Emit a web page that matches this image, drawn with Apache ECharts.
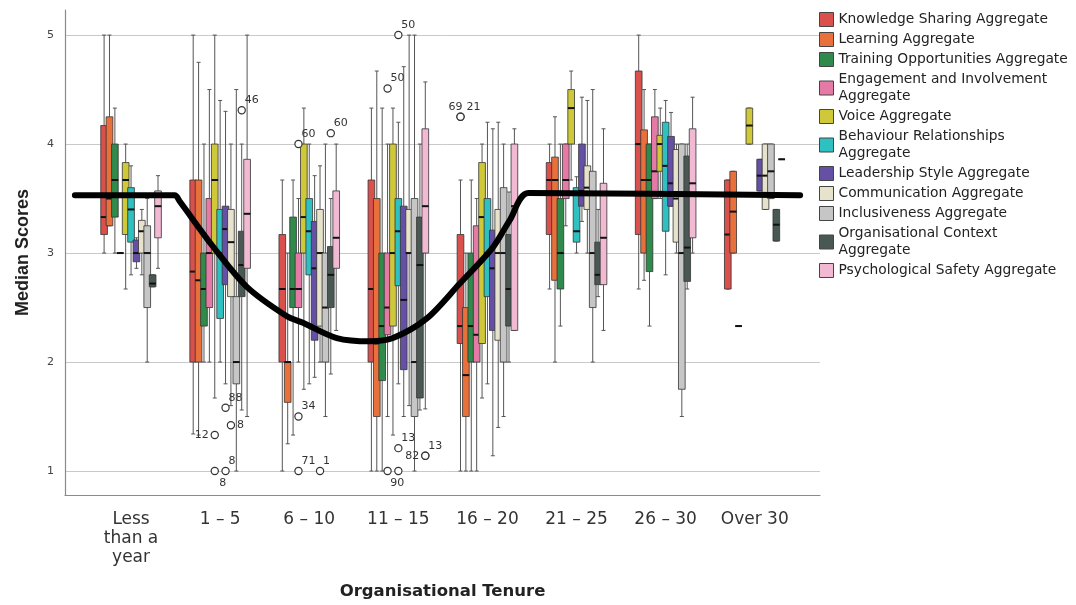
<!DOCTYPE html>
<html><head><meta charset="utf-8">
<script src="https://cdn.jsdelivr.net/npm/echarts@6/dist/echarts.min.js"></script>
<style>html,body{margin:0;padding:0;background:#fff}#c{width:1076px;height:605px}</style>
</head><body><div id="c"></div>
<script>
// ---------------- DATA ----------------
const categories = ['Less\nthan a\nyear', '1 – 5', '6 – 10', '11 – 15', '16 – 20', '21 – 25', '26 – 30', 'Over 30'];
const seriesNames = [
  'Knowledge Sharing Aggregate', 'Learning Aggregate', 'Training Opportunities Aggregate',
  'Engagement and Involvement Aggregate', 'Voice Aggregate', 'Behaviour Relationships Aggregate',
  'Leadership Style Aggregate', 'Communication Aggregate', 'Inclusiveness Aggregate',
  'Organisational Context Aggregate', 'Psychological Safety Aggregate'
];
const yTicks = [1, 2, 3, 4, 5];
// each entry: [min, Q1, median, Q3, max] per tenure group (null = no data)
const knowledgeSharing = [[3.0,3.17,3.33,4.17,5.0],[1.34,2.0,2.83,3.67,5.0],[1.0,2.0,2.67,3.17,3.67],[1.0,2.0,2.67,3.67,4.33],[1.0,2.17,2.33,3.17,3.67],[2.67,3.17,3.67,3.83,4.0],[2.67,3.17,4.0,4.67,5.0],[2.67,2.67,3.17,3.67,3.67]];
const learning = [[3.25,3.25,3.5,4.25,5.0],[1.33,2.0,2.75,3.67,4.75],[1.25,1.63,2.0,2.0,3.0],[1.0,1.5,2.17,3.5,4.67],[1.0,1.5,1.88,2.5,3.0],[2.0,2.75,3.67,3.88,4.25],[2.75,3.0,3.67,4.13,4.5],[3.0,3.0,3.38,3.75,3.75]];
const trainingOpportunities = [[3.0,3.33,3.67,4.0,4.33],[2.0,2.33,2.67,3.0,4.0],[1.33,2.5,2.67,3.33,3.67],[1.0,1.83,2.33,3.0,4.33],[1.0,2.0,2.33,3.0,3.67],[2.33,2.67,3.0,3.5,4.0],[2.33,2.83,3.67,4.0,4.0],[2.33,2.33,2.33,2.33,2.33]];
const engagementInvolvement = [[3.0,3.0,3.0,3.0,3.0],[2.0,2.5,3.0,3.5,4.5],[2.0,2.5,2.67,3.0,3.5],[1.5,2.25,2.5,3.0,4.0],[1.0,2.0,2.25,3.25,3.5],[3.25,3.5,3.67,4.0,4.0],[3.5,3.5,3.75,4.25,4.5],null];
const voice = [[2.67,3.17,3.67,3.83,4.0],[1.67,3.0,3.67,4.0,5.0],[1.75,3.0,3.33,4.0,4.33],[1.33,2.33,3.0,4.0,4.33],[1.67,2.17,3.33,3.83,4.0],[3.67,4.0,4.33,4.5,4.67],[3.5,3.75,4.0,4.08,4.33],[4.0,4.0,4.17,4.33,4.33]];
const behaviourRelationships = [[2.8,3.1,3.4,3.6,3.8],[2.0,2.4,3.0,3.4,4.4],[1.8,2.8,3.2,3.5,4.0],[1.8,2.7,3.2,3.5,4.2],[1.8,2.6,3.0,3.5,4.2],[3.0,3.1,3.2,3.6,3.7],[2.8,3.2,3.8,4.2,4.4],null];
const leadershipStyle = [[2.86,2.92,3.0,3.12,3.14],[1.8,2.71,3.22,3.43,4.3],[1.86,2.2,2.86,3.29,3.71],[1.5,1.93,2.57,3.43,4.71],[1.14,2.29,2.86,3.21,4.14],[3.29,3.43,3.57,4.0,4.43],[3.43,3.43,3.64,4.07,4.29],[3.57,3.57,3.71,3.86,3.86]];
const communication = [[2.8,3.0,3.2,3.3,3.4],[1.6,2.6,3.1,3.4,4.0],[2.0,2.33,3.0,3.4,3.8],[1.6,3.0,3.0,3.4,5.0],[1.4,2.2,3.0,3.4,4.2],[3.0,3.4,3.6,3.8,4.4],[3.0,3.1,3.5,3.95,4.0],[3.4,3.4,3.71,4.0,4.0]];
const inclusiveness = [[2.0,2.5,3.0,3.25,3.5],[1.0,1.8,2.0,2.6,4.5],[1.5,2.0,2.5,3.0,4.0],[1.0,1.5,2.0,3.5,5.0],[1.5,2.0,3.0,3.6,4.0],[2.0,2.5,3.0,3.75,4.5],[1.5,1.75,3.0,4.0,4.0],[3.5,3.5,3.75,4.0,4.0]];
const organisationalContext = [[2.69,2.69,2.72,2.8,2.8],[1.56,2.6,2.89,3.2,4.0],[1.89,2.5,2.8,3.06,3.5],[1.56,1.67,2.89,3.33,4.0],[2.0,2.33,2.67,3.17,3.56],[2.6,2.71,2.8,3.1,3.4],[2.67,2.74,3.05,3.89,4.0],[3.11,3.11,3.26,3.4,3.4]];
const psychologicalSafety = [[2.86,3.14,3.43,3.57,3.71],[1.5,2.86,3.36,3.86,5.0],[2.29,2.86,3.14,3.57,4.0],[1.57,3.0,3.43,4.14,4.57],[2.29,2.29,3.43,4.0,4.14],[2.29,2.71,3.14,3.64,4.14],[3.0,3.14,3.64,4.14,4.43],[3.86,3.86,3.86,3.86,3.86]];

// outliers: which series, which tenure group, value, case label
const outlierSeries = [4, 4, 6, 6, 7, 9, 3, 3, 7, 3, 9, 5, 3, 3, 5, 5, 10, 10, 0, 0];
const outlierGroup  = [1, 1, 1, 1, 1, 1, 2, 2, 2, 2, 2, 3, 3, 3, 3, 3, 3, 3, 4, 4];
const outlierValue  = [1.33, 1.0, 1.0, 1.58, 1.42, 4.31, 1.5, 1.0, 1.0, 4.0, 4.1, 5.0, 4.51, 1.0, 1.0, 1.21, 1.14, 1.14, 4.25, 4.25];
const outlierLabel  = ['12', '8', '8', '88', '8', '46', '34', '71', '1', '60', '60', '50', '50', '', '90', '13', '82', '13', '69', '21'];

// hand-drawn trend annotation (x in tenure-group units, y in score)
const trendX = [-0.63, 0.49, 0.55, 0.92, 1.30, 1.75, 1.93, 2.31, 2.68, 2.94, 3.32, 3.69, 4.06, 4.25, 4.46, 7.51];
const trendY = [3.53, 3.53, 3.47, 3.06, 2.69, 2.42, 2.36, 2.22, 2.19, 2.22, 2.40, 2.72, 3.05, 3.30, 3.55, 3.53];

// ---------------- STYLE ----------------
const stats = [knowledgeSharing, learning, trainingOpportunities, engagementInvolvement, voice,
  behaviourRelationships, leadershipStyle, communication, inclusiveness, organisationalContext, psychologicalSafety];
const colors = ['#d9504c', '#e8703a', '#2f8a4c', '#e57aa6', '#cfc93a', '#2fc0c2', '#6650a6', '#e6e2cb', '#c6c6c6', '#4a5853', '#f2b9d2'];
const legendWrap = {
  'Engagement and Involvement Aggregate': 'Engagement and Involvement\nAggregate',
  'Behaviour Relationships Aggregate': 'Behaviour Relationships\nAggregate',
  'Organisational Context Aggregate': 'Organisational Context\nAggregate'
};
const outlierSide = ['left', 'bottomRight', 'topRight', 'topRight', 'right', 'topRight', 'topRight', 'topRight', 'topRight', 'topRight', 'topRight',
  'topRight', 'topRight', 'right', 'bottomLeft', 'topRight', 'left', 'topRight', 'topLeft', 'topRight2'];
const sideOffsets = {
  right: [6, 0, 'left'], left: [-6, 0, 'right'], topRight: [3, -10, 'left'], topRight2: [6, -10, 'left'],
  topLeft: [2, -10, 'right'], bottomRight: [8, 12, 'center'], bottomLeft: [-1, 12, 'center']
};
const SPACING = 0.0605, BOXW = 0.075, N = seriesNames.length;

function boxSeries(k) {
  return {
    type: 'custom', name: seriesNames[k], xAxisIndex: 1, yAxisIndex: 1, z: 3,
    itemStyle: { color: colors[k] },
    dimensions: ['g', 'min', 'q1', 'med', 'q3', 'max'],
    encode: { x: 0, y: [1, 2, 3, 4, 5] },
    data: stats[k].map((s, gi) => s ? [gi].concat(s) : null).filter(d => d),
    renderItem(params, api) {
      const gi = api.value(0);
      const band = api.size([1, 0])[0];
      const cx = api.coord([gi, api.value(3)])[0] + (k - (N - 1) / 2) * band * SPACING;
      const ys = [1, 2, 3, 4, 5].map(d => api.coord([gi, api.value(d)])[1]);
      const w = band * BOXW, cap = w * 0.6;
      const ws = { stroke: '#555', lineWidth: 1 };
      return { type: 'group', children: [
        { type: 'line', shape: { x1: cx, y1: ys[4], x2: cx, y2: ys[3] }, style: ws },
        { type: 'line', shape: { x1: cx, y1: ys[1], x2: cx, y2: ys[0] }, style: ws },
        { type: 'line', shape: { x1: cx - cap / 2, y1: ys[4], x2: cx + cap / 2, y2: ys[4] }, style: ws },
        { type: 'line', shape: { x1: cx - cap / 2, y1: ys[0], x2: cx + cap / 2, y2: ys[0] }, style: ws },
        { type: 'rect', shape: { x: cx - w / 2, y: ys[3], width: w, height: ys[1] - ys[3] }, style: { fill: colors[k], stroke: '#333', lineWidth: 0.8 } },
        { type: 'line', shape: { x1: cx - w / 2, y1: ys[2], x2: cx + w / 2, y2: ys[2] }, style: { stroke: '#111', lineWidth: 2 } }
      ] };
    }
  };
}

const series = [];
series.push({
  type: 'line', name: 'grid', xAxisIndex: 0, yAxisIndex: 0, data: [], silent: true, z: 0,
  markLine: { silent: true, symbol: 'none', z: 0, animation: false, label: { show: false },
    lineStyle: { color: '#c9c9c9', type: 'solid', width: 1 }, data: yTicks.map(v => ({ yAxis: v })) }
});
for (let k = 0; k < N; k++) series.push(boxSeries(k));
series.push({
  type: 'custom', name: 'outliers', xAxisIndex: 1, yAxisIndex: 1, z: 4, silent: true,
  dimensions: ['g', 'v', 's'], encode: { x: 0, y: 1 },
  data: outlierValue.map((v, i) => [outlierGroup[i], v, outlierSeries[i]]),
  renderItem(params, api) {
    const i = params.dataIndex;
    const gi = api.value(0), k = api.value(2);
    const band = api.size([1, 0])[0];
    const p = api.coord([gi, api.value(1)]);
    const cx = p[0] + (k - (N - 1) / 2) * band * SPACING;
    const o = sideOffsets[outlierSide[i]];
    return { type: 'group', children: [
      { type: 'circle', shape: { cx: cx, cy: p[1], r: 3.6 }, style: { fill: '#fff', stroke: '#333', lineWidth: 1.2 } },
      { type: 'text', x: cx + o[0], y: p[1] + o[1], style: { text: outlierLabel[i], fill: '#333', font: '11px "DejaVu Sans"', align: o[2], verticalAlign: 'middle' } }
    ] };
  }
});
series.push({
  type: 'line', name: 'trend', xAxisIndex: 0, yAxisIndex: 0, z: 6, silent: true,
  data: trendX.map((x, i) => [x, trendY[i]]), smooth: 0.3, symbol: 'none',
  lineStyle: { color: '#000', width: 6, cap: 'round', join: 'round' }
});

const chart = echarts.init(document.getElementById('c'), null, { renderer: 'canvas' });
chart.setOption({
  animation: false,
  backgroundColor: '#fff',
  grid: [
    { left: 65, right: 256, top: 10, bottom: 110, outerBoundsMode: 'none' },
    { left: 86.5, right: 276.7, top: 10, bottom: 110, outerBoundsMode: 'none' }
  ],
  xAxis: [
    { type: 'value', gridIndex: 0, min: -0.741, max: 7.733,
      axisLine: { show: true, onZero: false, lineStyle: { color: '#8a8a8a', width: 1.2 } },
      axisTick: { show: false }, axisLabel: { show: false }, splitLine: { show: false },
      name: 'Organisational Tenure', nameLocation: 'middle', nameGap: 88,
      nameTextStyle: { fontFamily: 'DejaVu Sans', fontWeight: 'bold', fontSize: 16.5, color: '#222' } },
    { type: 'category', gridIndex: 1, data: categories,
      axisLine: { show: false }, axisTick: { show: false }, splitLine: { show: false },
      axisLabel: { interval: 0, fontFamily: 'DejaVu Sans', fontSize: 17, lineHeight: 19, color: '#333', margin: 15 } }
  ],
  yAxis: [
    { type: 'value', gridIndex: 0, min: 0.78, max: 5.23,
      axisLine: { show: true, onZero: false, lineStyle: { color: '#8a8a8a', width: 1.2 } },
      axisTick: { show: false }, splitLine: { show: false },
      axisLabel: { customValues: yTicks, fontFamily: 'DejaVu Sans', fontSize: 11, color: '#444', margin: 11 },
      name: 'Median Scores', nameLocation: 'middle', nameRotate: 90, nameGap: 33,
      nameTextStyle: { fontFamily: 'Liberation Sans', fontWeight: 'bold', fontSize: 18, color: '#222' } },
    { type: 'value', gridIndex: 1, min: 0.78, max: 5.23, show: false }
  ],
  legend: {
    data: seriesNames, orient: 'vertical', left: 814, top: 6,
    icon: 'rect', itemWidth: 14, itemHeight: 14, itemGap: 3,
    itemStyle: { borderColor: '#444', borderWidth: 1 },
    textStyle: { fontFamily: 'DejaVu Sans', fontSize: 13.8, lineHeight: 17, color: '#222' },
    formatter: name => legendWrap[name] || name,
    selectedMode: false
  },
  series: series
});
</script>
</body></html>
